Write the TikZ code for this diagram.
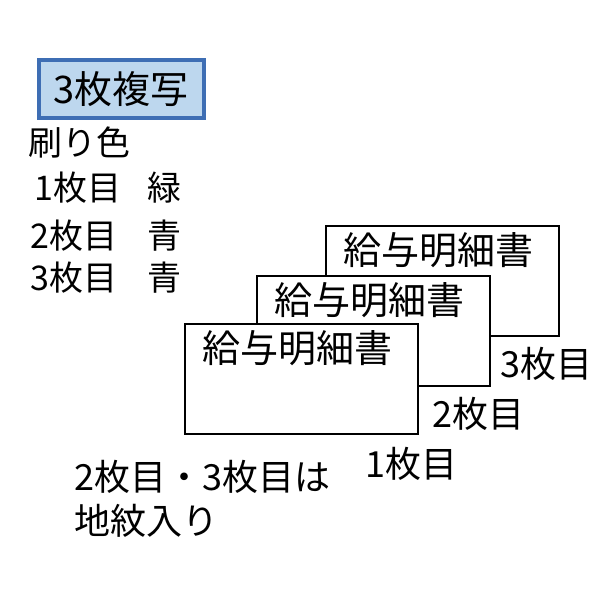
\documentclass[tikz,border=0pt]{standalone}
\usepackage{fontspec}
\setmainfont{Noto Sans CJK JP}
\usetikzlibrary{positioning, calc}

\definecolor{headfill}{RGB}{189,215,238}
\definecolor{headline}{RGB}{62,110,180}

\begin{document}
\begin{tikzpicture}[x=1pt, y=-1pt,
  txt/.style={inner sep=0pt, anchor=west, font=\fontsize{34}{40}\selectfont},
  bigtxt/.style={txt, font=\fontsize{36}{42}\selectfont},
  card/.style={draw, fill=white, line width=2pt, anchor=north west,
               minimum width=233pt, minimum height=110pt},
  cardtitle/.style={inner sep=0pt, anchor=west, font=\fontsize{38}{44}\selectfont}]
\useasboundingbox (0,0) rectangle (598,598); % 598x598 画面
% 見出し
\node (head) [draw=headline, fill=headfill, line width=4pt, minimum width=165pt,
              minimum height=58pt, inner sep=0pt, font=\fontsize{38}{44}\selectfont]
      at (121,89) {3枚複写};
% 刷り色の一覧
\node (inkhead) [txt] at (28,143) {刷り色};
\node (sheet1) [txt] at (34,188) {1枚目};
\node (sheet2) [txt] at (30,236) {2枚目};
\node (sheet3) [txt] at (30,278) {3枚目};
\node (ink1) [txt] at (147,188) {緑};
\node (ink2) [txt] at (147,236) {青};
\node (ink3) [txt] at (147,278) {青};
% 重ねた伝票（奥から順に描く）
\node (card3) [card] at (325,225) {};
\node (card2) [card] at (256,275) {};
\node (card1) [card] at (184,323) {};
\node (title3) [cardtitle] at ($(card3.north west)+(18,25)$) {給与明細書};
\node (title2) [cardtitle] at ($(card2.north west)+(18,25)$) {給与明細書};
\node (title1) [cardtitle] at ($(card1.north west)+(18,25)$) {給与明細書};
% 各伝票の番号
\node (num3) [bigtxt] at ($(card3.south east)+(-60,27)$) {3枚目};
\node (num2) [bigtxt] at ($(card2.south east)+(-59,27)$) {2枚目};
\node (num1) [bigtxt] at ($(card1.south east)+(-54,29)$) {1枚目};
% 注記
\node (note1) [bigtxt] at (74,477) {2枚目・3枚目は};
\node (note2) [bigtxt, below=10pt of note1.south west, anchor=north west] {地紋入り};
\end{tikzpicture}
\end{document}
